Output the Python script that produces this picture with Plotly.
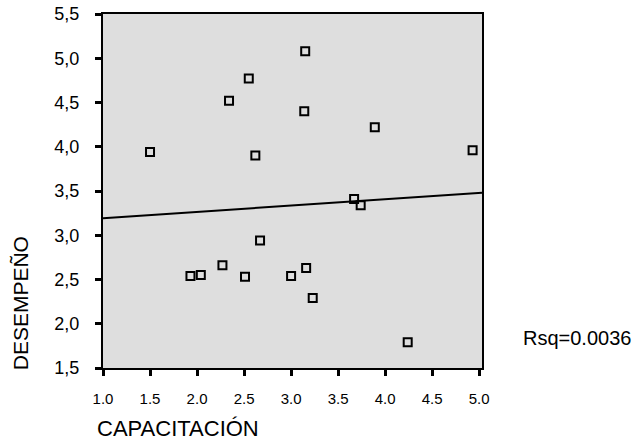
import numpy as np
import plotly.graph_objects as go

# data
capacitacion = [1.50, 2.34, 2.55, 2.62, 3.15, 3.14, 3.89, 4.93, 3.67, 3.74,
                2.67, 1.93, 2.04, 2.27, 2.51, 3.00, 3.16, 3.23, 4.24]
desempeno = [3.94, 4.52, 4.77, 3.90, 5.08, 4.40, 4.22, 3.96, 3.41, 3.34,
             2.94, 2.54, 2.55, 2.66, 2.53, 2.54, 2.63, 2.29, 1.79]

fit_intercept = 3.12
fit_slope = 0.0717
rsq_label = "Rsq=0.0036"

x_ticks = [1.0, 1.5, 2.0, 2.5, 3.0, 3.5, 4.0, 4.5, 5.0]
x_ticktext = ["1.0", "1.5", "2.0", "2.5", "3.0", "3.5", "4.0", "4.5", "5.0"]
y_ticks = [1.5, 2.0, 2.5, 3.0, 3.5, 4.0, 4.5, 5.0, 5.5]
y_ticktext = ["1,5", "2,0", "2,5", "3,0", "3,5", "4,0", "4,5", "5,0", "5,5"]

x_range = [1.0, 5.03]
y_range = [1.5, 5.5]

FONT = "Liberation Sans, Arial, sans-serif"

fig = go.Figure()

line_x = np.array(x_range)
line_y = fit_intercept + fit_slope * line_x
fig.add_trace(go.Scatter(x=line_x, y=line_y, mode="lines",
                         line=dict(color="black", width=2), showlegend=False,
                         hoverinfo="skip"))

fig.add_trace(go.Scatter(x=capacitacion, y=desempeno, mode="markers",
                         marker=dict(symbol="square-open", size=8, color="black",
                                     line=dict(color="black", width=2)),
                         showlegend=False))

axis_common = dict(showgrid=False, zeroline=False, showline=True, linecolor="black",
                   linewidth=2, mirror=True, ticks="outside", tickcolor="black",
                   ticklen=6, tickwidth=3, automargin=False)

fig.update_xaxes(range=x_range, tickvals=x_ticks, ticktext=x_ticktext,
                 tickfont=dict(family=FONT, size=15, color="black"),
                 ticklabelstandoff=10, **axis_common)
fig.update_yaxes(range=y_range, tickvals=y_ticks, ticktext=y_ticktext,
                 tickfont=dict(family=FONT, size=18, color="black"),
                 ticklabelstandoff=12, **axis_common)

fig.add_annotation(text="CAPACITACIÓN", xref="paper", yref="paper",
                   x=-0.022, y=-0.172, xanchor="left", yanchor="middle",
                   showarrow=False, font=dict(family=FONT, size=22, color="black"))
fig.add_annotation(text="DESEMPEÑO", xref="paper", yref="paper",
                   x=-0.218, y=0.184, xanchor="center", yanchor="middle",
                   textangle=-90, showarrow=False,
                   font=dict(family=FONT, size=21, color="black"))
fig.add_annotation(text=rsq_label, xref="paper", yref="paper",
                   x=1.103, y=0.085, xanchor="left", yanchor="middle",
                   showarrow=False, font=dict(family=FONT, size=20, color="black"))

fig.update_layout(width=637, height=443,
                  margin=dict(l=103, r=155, t=14, b=75, autoexpand=False),
                  plot_bgcolor="#dedede", paper_bgcolor="white")

fig.write_html("out.html")
